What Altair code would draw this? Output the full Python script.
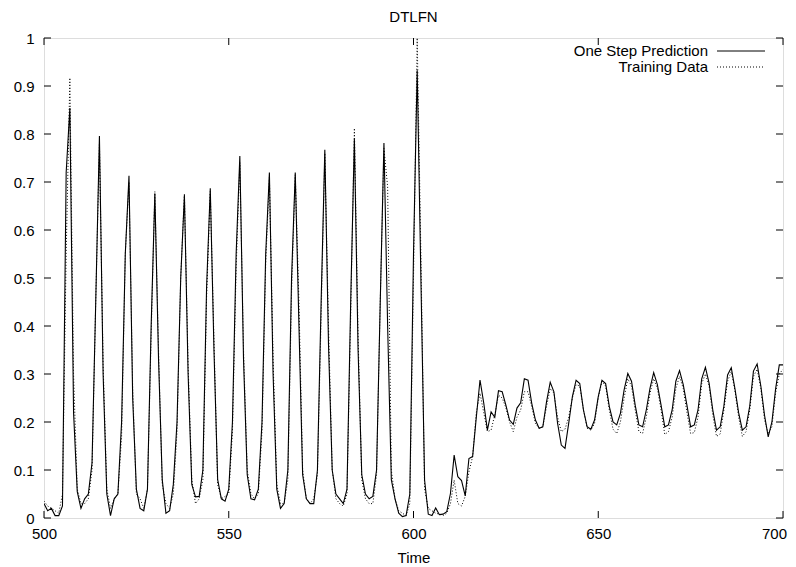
import altair as alt
import pandas as pd

# ---- data ----
time = list(range(500, 701))

prediction = [
    0.03, 0.015, 0.02, 0.005, 0.005, 0.025, 0.72, 0.854, 0.22, 0.055,
    0.02, 0.04, 0.05, 0.115, 0.45, 0.796, 0.30, 0.05, 0.005, 0.04,
    0.05, 0.20, 0.55, 0.713, 0.25, 0.06, 0.02, 0.015, 0.06, 0.40,
    0.676, 0.33, 0.08, 0.01, 0.015, 0.07, 0.20, 0.50, 0.673, 0.30,
    0.07, 0.044, 0.045, 0.10, 0.48, 0.687, 0.35, 0.08, 0.04, 0.035,
    0.06, 0.20, 0.55, 0.754, 0.33, 0.09, 0.04, 0.038, 0.06, 0.20,
    0.55, 0.72, 0.30, 0.06, 0.02, 0.03, 0.10, 0.50, 0.72, 0.40,
    0.09, 0.04, 0.03, 0.03, 0.10, 0.45, 0.767, 0.36, 0.10, 0.05,
    0.04, 0.03, 0.06, 0.45, 0.79, 0.35, 0.09, 0.05, 0.04, 0.045,
    0.10, 0.45, 0.781, 0.40, 0.08, 0.04, 0.01, 0.003, 0.005, 0.05,
    0.55, 0.933, 0.50, 0.079, 0.008, 0.005, 0.021, 0.007, 0.008, 0.013,
    0.051, 0.131, 0.086, 0.078, 0.046, 0.124, 0.128, 0.21, 0.2875, 0.24,
    0.183, 0.221, 0.21, 0.265, 0.263, 0.235, 0.204, 0.195, 0.229, 0.24,
    0.29, 0.287, 0.239, 0.204, 0.187, 0.19, 0.242, 0.283, 0.263, 0.197,
    0.152, 0.145, 0.197, 0.253, 0.287, 0.28, 0.225, 0.19, 0.185, 0.204,
    0.253, 0.287, 0.28, 0.232, 0.20, 0.194, 0.218, 0.267, 0.301, 0.285,
    0.235, 0.194, 0.19, 0.225, 0.27, 0.303, 0.278, 0.235, 0.19, 0.194,
    0.225, 0.285, 0.307, 0.278, 0.235, 0.19, 0.194, 0.225, 0.29, 0.314,
    0.281, 0.225, 0.183, 0.19, 0.233, 0.298, 0.313, 0.269, 0.219, 0.183,
    0.19, 0.233, 0.306, 0.321, 0.275, 0.214, 0.169, 0.20, 0.269, 0.319,
    0.319,
]

training = [
    0.035, 0.025, 0.02, 0.015, 0.01, 0.05, 0.55, 0.917, 0.30, 0.06,
    0.03, 0.03, 0.04, 0.10, 0.45, 0.78, 0.32, 0.06, 0.02, 0.04,
    0.05, 0.17, 0.55, 0.70, 0.27, 0.05, 0.04, 0.02, 0.06, 0.38,
    0.68, 0.35, 0.07, 0.03, 0.02, 0.05, 0.18, 0.50, 0.675, 0.32,
    0.08, 0.03, 0.04, 0.08, 0.46, 0.68, 0.37, 0.07, 0.04, 0.045,
    0.05, 0.18, 0.52, 0.74, 0.35, 0.10, 0.05, 0.04, 0.05, 0.18,
    0.53, 0.71, 0.33, 0.07, 0.03, 0.03, 0.08, 0.47, 0.715, 0.45,
    0.10, 0.04, 0.03, 0.04, 0.09, 0.42, 0.76, 0.40, 0.10, 0.04,
    0.03, 0.025, 0.05, 0.42, 0.812, 0.38, 0.08, 0.04, 0.03, 0.03,
    0.09, 0.45, 0.77, 0.69, 0.10, 0.04, 0.015, 0.01, 0.005, 0.03,
    0.50, 1.0, 0.55, 0.06, 0.02, 0.015, 0.01, 0.008, 0.005, 0.01,
    0.03, 0.079, 0.03, 0.025, 0.045, 0.096, 0.128, 0.22, 0.26, 0.22,
    0.18, 0.183, 0.215, 0.256, 0.25, 0.23, 0.20, 0.18, 0.21, 0.225,
    0.263, 0.263, 0.232, 0.197, 0.187, 0.19, 0.232, 0.27, 0.26, 0.21,
    0.18, 0.185, 0.21, 0.25, 0.278, 0.275, 0.225, 0.187, 0.183, 0.197,
    0.25, 0.285, 0.275, 0.225, 0.185, 0.176, 0.20, 0.25, 0.29, 0.275,
    0.225, 0.18, 0.176, 0.21, 0.26, 0.29, 0.27, 0.225, 0.174, 0.18,
    0.21, 0.27, 0.295, 0.27, 0.22, 0.176, 0.178, 0.21, 0.28, 0.30,
    0.275, 0.215, 0.17, 0.175, 0.225, 0.285, 0.305, 0.265, 0.21, 0.17,
    0.18, 0.225, 0.295, 0.31, 0.27, 0.205, 0.175, 0.19, 0.26, 0.30,
    0.31,
]

x_ticks = [500, 550, 600, 650, 700]
y_ticks = [0, 0.1, 0.2, 0.3, 0.4, 0.5, 0.6, 0.7, 0.8, 0.9, 1.0]
series_names = ["One Step Prediction", "Training Data"]
title_text = "DTLFN"
x_title = "Time"

# ---- chart ----
W, H = 739, 480
FONT = "Liberation Sans"
FS = 15
TICK = 7

df = pd.DataFrame({"t": time, "pred": prediction, "train": training})
xs = alt.Scale(domain=[500, 700], nice=False, zero=False)
ys = alt.Scale(domain=[0, 1], nice=False, zero=False)

x_axis = alt.Axis(values=x_ticks, ticks=False, tickSize=0, domain=False, grid=False,
                  labelFont=FONT, labelFontSize=FS, labelColor="black", labelPadding=8,
                  labelOffset={"condition": {"test": "datum.value >= 700", "value": -9}, "value": 0},
                  title=x_title, titleFont=FONT, titleFontSize=FS, titleFontWeight="normal",
                  titleColor="black", titlePadding=9, labelFlush=False)
y_axis = alt.Axis(values=y_ticks, ticks=False, tickSize=0, domain=False, grid=False,
                  labelFont=FONT, labelFontSize=FS, labelColor="black", labelPadding=10,
                  title=None, labelExpr="format(datum.value, '~g')")


def X(field):
    return alt.X(field, type="quantitative", scale=xs, axis=x_axis)


def Y(field):
    return alt.Y(field, type="quantitative", scale=ys, axis=y_axis)


pred_line = alt.Chart(df).mark_line(color="black", strokeWidth=1.1, clip=True).encode(
    x=X("t"), y=Y("pred"))
train_line = alt.Chart(df).mark_line(color="black", strokeWidth=1, strokeDash=[1, 2], clip=True).encode(
    x=X("t"), y=Y("train"))

ydf = pd.DataFrame({"v": y_ticks})
xdf = pd.DataFrame({"v": x_ticks})
tick_left = alt.Chart(ydf).mark_rule(color="black", strokeWidth=1).encode(
    x=alt.value(0), x2=alt.value(TICK), y=Y("v"))
tick_right = alt.Chart(ydf).mark_rule(color="black", strokeWidth=1).encode(
    x=alt.value(W - TICK), x2=alt.value(W), y=Y("v"))
tick_bottom = alt.Chart(xdf).mark_rule(color="black", strokeWidth=1).encode(
    y=alt.value(H), y2=alt.value(H - TICK), x=X("v"))
tick_top = alt.Chart(xdf).mark_rule(color="black", strokeWidth=1).encode(
    y=alt.value(0), y2=alt.value(TICK), x=X("v"))

legend_layers = []
for i, name in enumerate(series_names):
    ypos = 13 + 16 * i
    ldf = pd.DataFrame({"label": [name]})
    legend_layers.append(
        alt.Chart(ldf).mark_text(align="right", baseline="middle", font=FONT,
                                 fontSize=FS, color="black").encode(
            text="label:N", x=alt.value(664), y=alt.value(ypos)))
    rule = alt.Chart(ldf).mark_rule(color="black", strokeWidth=1,
                                    strokeDash=([1, 2] if i == 1 else [1, 0]))
    legend_layers.append(rule.encode(x=alt.value(673), x2=alt.value(721), y=alt.value(ypos)))

chart = alt.layer(
    pred_line, train_line, tick_left, tick_right, tick_bottom, tick_top, *legend_layers
).properties(
    width=W, height=H,
    title=alt.TitleParams(title_text, font=FONT, fontSize=FS, fontWeight="normal",
                          color="black", anchor="middle", offset=6),
    autosize=alt.AutoSizeParams(type="none"),
    padding={"left": 36, "top": 30, "right": 5, "bottom": 49},
).configure_view(stroke="black", strokeWidth=1).configure(background="white")

chart.save("out.html", embed_options={"renderer": "svg", "actions": False})
